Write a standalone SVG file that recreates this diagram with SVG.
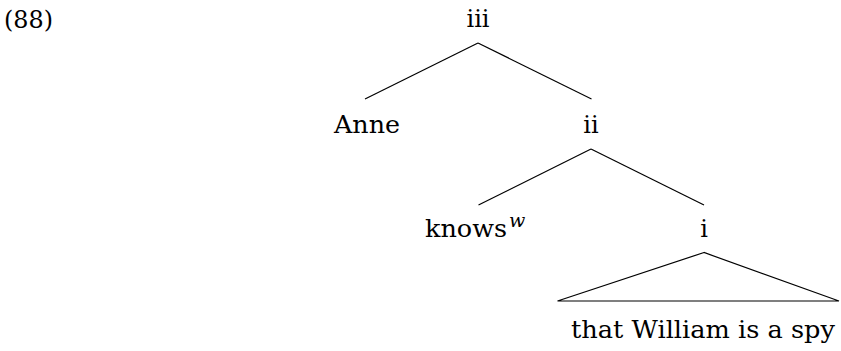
<svg xmlns="http://www.w3.org/2000/svg" width="841" height="351" viewBox="0 0 841 351">
<style>
text{font-family:'DejaVu Serif',serif;font-size:24px;fill:#000}
.c{text-anchor:middle}
.sup{font-style:italic;font-size:19px}
line,polygon{stroke:#000;stroke-width:1.2;fill:none}
</style>
<rect width="841" height="351" fill="#fff"/>
<text id="label" x="4" y="28" textLength="49" lengthAdjust="spacingAndGlyphs">(88)</text>
<g id="connectors">
<line x1="478" y1="43" x2="365" y2="99"/>
<line x1="478" y1="43" x2="591.5" y2="99"/>
<line x1="591" y1="149" x2="478.5" y2="205"/>
<line x1="591" y1="149" x2="704" y2="205"/>
<polygon points="704,252.5 557.5,301 839,301"/>
</g>
<g id="n_iii"><text class="c" x="478" y="27">iii</text></g>
<g id="n_anne"><text x="334" y="133" textLength="66" lengthAdjust="spacingAndGlyphs">Anne</text></g>
<g id="n_ii"><text class="c" x="591" y="133">ii</text></g>
<g id="n_knows"><text x="425" y="237"><tspan textLength="82" lengthAdjust="spacingAndGlyphs">knows</tspan><tspan class="sup" dx="2" dy="-10">w</tspan></text></g>
<g id="n_i"><text class="c" x="704" y="237">i</text></g>
<g id="n_that"><text x="571" y="338" textLength="264" lengthAdjust="spacingAndGlyphs">that William is a spy</text></g>
</svg>
